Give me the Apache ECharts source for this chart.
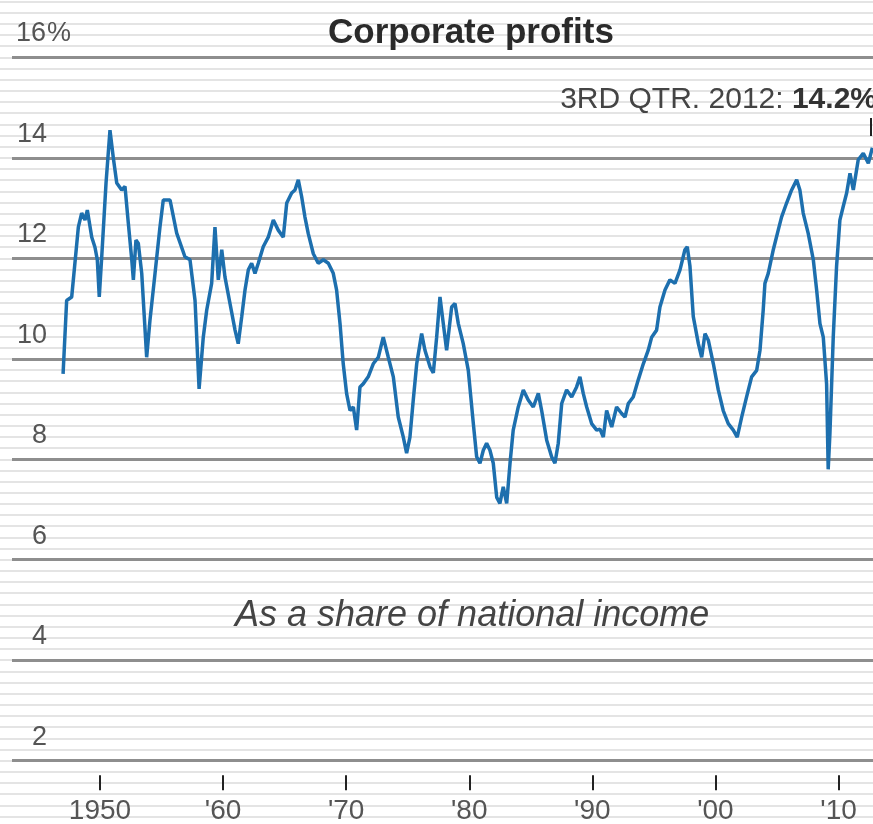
<!DOCTYPE html>
<html>
<head>
<meta charset="utf-8">
<script src="https://cdn.jsdelivr.net/npm/echarts@6/dist/echarts.min.js"></script>
<style>
html, body { margin: 0; padding: 0; background: #fff; }
#chart-container { width: 873px; height: 824px; }
</style>
</head>
<body>
<div id="chart-container"></div>
<script>
// corporate profits as a share of national income
var years = [1947.0,1947.29,1947.7,1948.24,1948.51,1948.78,1948.97,1949.33,1949.59,1949.78,
  1949.94,1950.14,1950.49,1950.81,1951.08,1951.36,1951.76,1952.03,1952.3,1952.58,
  1952.71,1952.92,1953.11,1953.39,1953.79,1954.06,1954.47,1954.87,1955.14,1955.69,
  1956.23,1956.9,1957.31,1957.72,1958.05,1958.39,1958.67,1959.07,1959.34,1959.61,
  1959.89,1960.15,1960.56,1960.97,1961.23,1961.51,1961.78,1962.05,1962.32,1962.59,
  1962.86,1963.26,1963.67,1964.08,1964.48,1964.89,1965.17,1965.57,1965.84,1966.11,
  1966.38,1966.65,1966.92,1967.33,1967.73,1968.14,1968.55,1968.95,1969.22,1969.5,
  1969.76,1970.04,1970.31,1970.58,1970.85,1971.12,1971.38,1971.79,1972.2,1972.61,
  1973.01,1973.42,1973.83,1974.23,1974.64,1974.91,1975.18,1975.45,1975.73,1976.13,
  1976.4,1976.81,1977.08,1977.35,1977.62,1977.89,1978.16,1978.57,1978.84,1979.11,
  1979.51,1979.92,1980.33,1980.6,1980.87,1981.14,1981.41,1981.68,1981.95,1982.23,
  1982.49,1982.76,1983.04,1983.31,1983.57,1983.98,1984.39,1984.79,1985.2,1985.61,
  1985.88,1986.29,1986.69,1986.96,1987.23,1987.51,1987.91,1988.32,1988.72,1988.99,
  1989.26,1989.54,1989.94,1990.35,1990.62,1990.89,1991.16,1991.57,1991.97,1992.38,
  1992.65,1992.92,1993.32,1993.73,1994.14,1994.54,1994.82,1995.22,1995.49,1995.9,
  1996.3,1996.71,1997.12,1997.52,1997.71,1997.93,1998.2,1998.61,1998.88,1999.15,
  1999.42,1999.83,2000.23,2000.63,2001.04,2001.45,2001.77,2002.13,2002.53,2002.94,
  2003.35,2003.62,2003.88,2004.02,2004.29,2004.7,2005.1,2005.37,2005.78,2006.19,
  2006.6,2006.86,2007.13,2007.54,2007.95,2008.22,2008.49,2008.76,2009.03,2009.16,
  2009.3,2009.57,2009.84,2010.11,2010.38,2010.66,2010.93,2011.2,2011.6,2012.01,
  2012.42,2012.75];
var shares = [9.7,11.16,11.23,12.62,12.9,12.76,12.96,12.42,12.22,11.97,
  11.23,12.03,13.5,14.55,14.0,13.5,13.36,13.43,12.7,11.97,
  11.57,12.36,12.3,11.7,10.03,10.77,11.7,12.62,13.16,13.16,
  12.5,12.03,11.97,11.16,9.4,10.43,10.97,11.5,12.62,11.57,
  12.17,11.63,11.1,10.57,10.3,10.83,11.37,11.77,11.9,11.7,
  11.9,12.23,12.42,12.76,12.56,12.42,13.1,13.3,13.36,13.56,
  13.23,12.82,12.49,12.09,11.9,11.97,11.9,11.7,11.37,10.7,
  9.9,9.3,8.97,9.04,8.58,9.44,9.5,9.64,9.9,10.03,
  10.43,10.03,9.64,8.84,8.44,8.12,8.44,9.18,9.9,10.5,
  10.17,9.84,9.72,10.43,11.23,10.7,10.17,11.03,11.1,10.7,
  10.3,9.77,8.71,8.05,7.92,8.18,8.32,8.18,7.92,7.24,
  7.12,7.45,7.12,7.92,8.58,9.04,9.38,9.18,9.04,9.31,
  8.97,8.38,8.05,7.92,8.32,9.11,9.38,9.24,9.44,9.64,
  9.31,9.04,8.71,8.58,8.6,8.44,8.97,8.64,9.04,8.91,
  8.84,9.11,9.24,9.58,9.9,10.17,10.43,10.57,11.03,11.37,
  11.57,11.5,11.77,12.17,12.23,11.84,10.84,10.3,10.03,10.5,
  10.37,9.9,9.38,8.97,8.71,8.58,8.44,8.84,9.24,9.64,
  9.77,10.17,10.97,11.5,11.7,12.17,12.56,12.82,13.1,13.36,
  13.56,13.36,12.9,12.49,11.97,11.37,10.7,10.43,9.5,7.8,
  8.51,10.43,11.84,12.76,13.03,13.3,13.69,13.36,13.96,14.09,
  13.89,14.2];
var decadeTicks = [1950, 1960, 1970, 1980, 1990, 2000, 2010];
var titleText = 'Corporate profits';
var subText = 'As a share of national income';
var latestLabel = '3RD QTR. 2012: ';
var latestValue = '14.2%';

var font = "'Liberation Sans', Arial, sans-serif";
var stripe = 2 / 9;

var chartDom = document.getElementById('chart-container');
var myChart = echarts.init(chartDom);

var option = {
  animation: false,
  backgroundColor: '#fff',
  title: [
    {
      text: titleText, left: 323, top: 11,
      textStyle: { fontFamily: font, fontSize: 35, fontWeight: 'bold', color: '#2a2a2a' }
    },
    {
      text: subText, left: 230, top: 593,
      textStyle: { fontFamily: font, fontSize: 36, fontStyle: 'italic', fontWeight: 'normal', color: '#444' }
    }
  ],
  grid: [
    { left: 12, right: 0, top: 57.3, bottom: -37.2, outerBoundsMode: 'none', containLabel: false },
    { left: 0, right: 0, top: 1.5, bottom: -3.7, outerBoundsMode: 'none', containLabel: false }
  ],
  xAxis: [
    {
      type: 'value', gridIndex: 0, min: 1942.85, max: 2012.8, offset: -71, z: 1,
      axisLine: { show: false },
      splitLine: { show: false },
      axisTick: { show: true, inside: true, length: 15, customValues: decadeTicks,
        lineStyle: { color: '#222', width: 2 } },
      axisLabel: { customValues: decadeTicks, margin: 7, fontFamily: font, fontSize: 28, color: '#555',
        formatter: function (v) { return v === 1950 ? '1950' : "'" + String(v).slice(2); } }
    },
    { type: 'value', gridIndex: 1, min: 0, max: 1, show: false }
  ],
  yAxis: [
    {
      type: 'value', gridIndex: 0, min: 0, max: 16, interval: 2, z: 1,
      axisLine: { show: false },
      axisTick: { show: false },
      splitLine: { lineStyle: { color: '#8e8e8e', width: 3 } },
      axisLabel: {
        inside: true, margin: 3, verticalAlign: 'bottom', padding: [0, 0, 10, 0],
        formatter: function (v) {
          if (v === 0) return '';
          return v === 16 ? '{n|16}{p|%}' : '{n|' + v + '}';
        },
        rich: {
          n: { width: 32, align: 'right', fontFamily: font, fontSize: 27, color: '#555' },
          p: { fontFamily: font, fontSize: 27, color: '#555' }
        }
      }
    },
    {
      type: 'value', gridIndex: 1, min: 3 * stripe, max: 77 * stripe, interval: stripe, z: 0,
      axisLine: { show: false }, axisTick: { show: false }, axisLabel: { show: false },
      splitLine: { lineStyle: { color: '#e4e4e4', width: 2 } }
    }
  ],
  graphic: [
    {
      type: 'text', x: 877, y: 100, z: 10,
      style: {
        text: latestLabel + '{b|' + latestValue + '}',
        align: 'right', verticalAlign: 'middle',
        font: "30px 'Liberation Sans', Arial, sans-serif", fill: '#444',
        rich: { b: { fontWeight: 'bold', fontSize: 30, fontFamily: font, fill: '#333' } }
      }
    },
    {
      type: 'line', z: 10,
      shape: { x1: 871, y1: 118, x2: 871, y2: 136 },
      style: { stroke: '#222', lineWidth: 2 }
    }
  ],
  series: [
    {
      type: 'line', xAxisIndex: 0, yAxisIndex: 0, z: 3,
      symbol: 'none',
      data: years.map(function (y, i) { return [y, shares[i]]; }),
      lineStyle: { color: '#1d6fae', width: 3.5 }
    }
  ]
};

myChart.setOption(option);
</script>
</body>
</html>
